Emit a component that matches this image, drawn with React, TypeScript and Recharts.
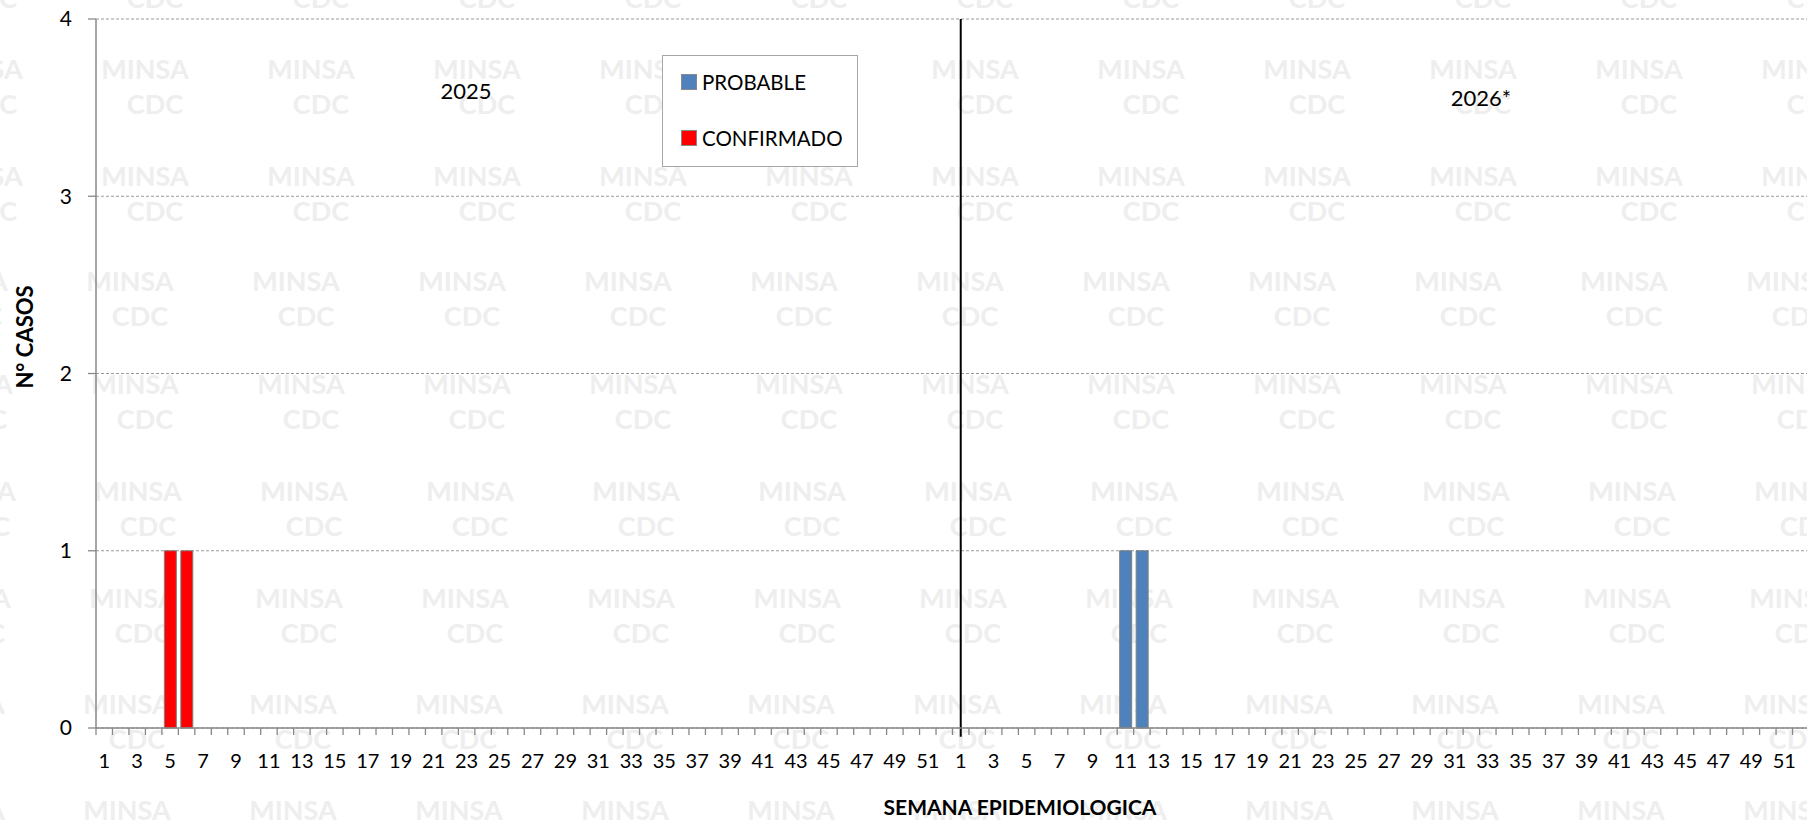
import React from 'react'
import {
  BarChart,
  Bar,
  XAxis,
  YAxis,
  CartesianGrid,
  Legend,
  ReferenceLine,
  Customized,
} from 'recharts'

// semanas epidemiologicas por año
const YEARS = ['2025', '2026']
const WEEKS = [
  1, 2, 3, 4, 5, 6, 7, 8, 9, 10, 11, 12, 13, 14, 15, 16, 17, 18, 19, 20, 21, 22, 23, 24, 25, 26,
  27, 28, 29, 30, 31, 32, 33, 34, 35, 36, 37, 38, 39, 40, 41, 42, 43, 44, 45, 46, 47, 48, 49, 50,
  51, 52,
]

// casos por semana (52 valores por año)
const PROBABLE_2025 = [
  0, 0, 0, 0, 0, 0, 0, 0, 0, 0, 0, 0, 0, 0, 0, 0, 0, 0, 0, 0, 0, 0, 0, 0, 0, 0,
  0, 0, 0, 0, 0, 0, 0, 0, 0, 0, 0, 0, 0, 0, 0, 0, 0, 0, 0, 0, 0, 0, 0, 0, 0, 0,
]
const CONFIRMADO_2025 = [
  0, 0, 0, 0, 1, 1, 0, 0, 0, 0, 0, 0, 0, 0, 0, 0, 0, 0, 0, 0, 0, 0, 0, 0, 0, 0,
  0, 0, 0, 0, 0, 0, 0, 0, 0, 0, 0, 0, 0, 0, 0, 0, 0, 0, 0, 0, 0, 0, 0, 0, 0, 0,
]
const PROBABLE_2026 = [
  0, 0, 0, 0, 0, 0, 0, 0, 0, 0, 1, 1, 0, 0, 0, 0, 0, 0, 0, 0, 0, 0, 0, 0, 0, 0,
  0, 0, 0, 0, 0, 0, 0, 0, 0, 0, 0, 0, 0, 0, 0, 0, 0, 0, 0, 0, 0, 0, 0, 0, 0, 0,
]
const CONFIRMADO_2026 = [
  0, 0, 0, 0, 0, 0, 0, 0, 0, 0, 0, 0, 0, 0, 0, 0, 0, 0, 0, 0, 0, 0, 0, 0, 0, 0,
  0, 0, 0, 0, 0, 0, 0, 0, 0, 0, 0, 0, 0, 0, 0, 0, 0, 0, 0, 0, 0, 0, 0, 0, 0, 0,
]
const Y_TICKS = [0, 1, 2, 3, 4]
const YEAR_LABELS = ['2025', '2026*']

const SERIES = [
  { key: 'probable', name: 'PROBABLE', color: '#4F81BD' },
  { key: 'confirmado', name: 'CONFIRMADO', color: '#FF0000' },
]

const byYear: Record<string, { probable: number[]; confirmado: number[] }> = {
  '2025': { probable: PROBABLE_2025, confirmado: CONFIRMADO_2025 },
  '2026': { probable: PROBABLE_2026, confirmado: CONFIRMADO_2026 },
}

const data = YEARS.flatMap((year) =>
  WEEKS.map((week, i) => ({
    key: `${year}-${week}`,
    week,
    probable: byYear[year].probable[i],
    confirmado: byYear[year].confirmado[i],
  }))
)

const FONT = 'Lato, "Liberation Sans", sans-serif'
const CHART_W = 1815
const CHART_H = 820
const MARGIN = { top: 19, right: 6, left: 0, bottom: 0 }
const Y_AXIS_W = 96
const X_AXIS_H = 92
const CAT_W = (CHART_W - Y_AXIS_W - MARGIN.right) / data.length

// marca de agua MINSA / CDC
const WM_ROWS = [
  { y: 69, x0: 145 },
  { y: 176, x0: 145 },
  { y: 281, x0: 130 },
  { y: 384, x0: 135 },
  { y: 491, x0: 138 },
  { y: 598, x0: 133 },
  { y: 704, x0: 127 },
  { y: 810, x0: 127 },
]
const WM_STEP = 166
const WM_STYLE = { fontSize: 27, fontWeight: 700, fill: '#eeeeee', fontFamily: FONT }

function Watermark() {
  const items: React.ReactNode[] = []
  for (let c = -1; c < 12; c++) {
    items.push(
      <text key={`top-${c}`} x={155 + c * WM_STEP} y={8} textAnchor="middle" {...WM_STYLE}>
        CDC
      </text>
    )
  }
  WM_ROWS.forEach((r, ri) => {
    for (let c = -1; c < 12; c++) {
      const x = r.x0 + c * WM_STEP
      items.push(
        <text key={`m-${ri}-${c}`} x={x} y={r.y + 10} textAnchor="middle" {...WM_STYLE}>
          MINSA
        </text>,
        <text key={`c-${ri}-${c}`} x={x + 10} y={r.y + 45} textAnchor="middle" {...WM_STYLE}>
          CDC
        </text>
      )
    }
  })
  return (
    <svg width={1807} height={820} style={{ position: 'absolute', left: 0, top: 0 }}>
      {items}
    </svg>
  )
}

function WeekTick(props: any) {
  const { x, y, payload } = props
  const week = data[payload.index]?.week ?? Number(String(payload.value).split('-')[1])
  const bx = x - CAT_W / 2
  return (
    <g>
      <line x1={bx} y1={y} x2={bx} y2={y + 7} stroke="#888" strokeWidth={1.3} />
      {week % 2 === 1 && (
        <text x={x} y={y + 40} textAnchor="middle" fontSize={20} fill="#000" fontFamily={FONT}>
          {week}
        </text>
      )}
    </g>
  )
}

function LegendBox() {
  return (
    <div
      style={{
        width: 196,
        height: 112,
        border: '1.5px solid #a6a6a6',
        background: '#fff',
        fontFamily: FONT,
        fontSize: 20.5,
        color: '#000',
        boxSizing: 'border-box',
        position: 'relative',
      }}
    >
      {SERIES.map((s, i) => (
        <div
          key={s.key}
          style={{ position: 'absolute', left: 18, top: 14 + i * 56, display: 'flex', alignItems: 'center', whiteSpace: 'nowrap' }}
        >
          <span style={{ width: 14, height: 14, background: s.color, border: '1px solid #888', marginRight: 5, display: 'inline-block' }} />
          <span>{s.name}</span>
        </div>
      ))}
    </div>
  )
}

function Texts() {
  return (
    <g fontFamily={FONT}>
      <text x={466} y={99} textAnchor="middle" fontSize={22} fill="#000">
        {YEAR_LABELS[0]}
      </text>
      <text x={1481} y={106} textAnchor="middle" fontSize={22} fill="#000">
        {YEAR_LABELS[1]}
      </text>
      <text x={1020} y={815} textAnchor="middle" fontSize={21} fontWeight={700} fill="#000">
        SEMANA EPIDEMIOLOGICA
      </text>
      <text
        x={24}
        y={337}
        textAnchor="middle"
        dominantBaseline="central"
        fontSize={22}
        fontWeight={700}
        fill="#000"
        transform="rotate(-90 24 337)"
      >
        N° CASOS
      </text>
    </g>
  )
}

export default function App() {
  return (
    <div style={{ position: 'fixed', left: 0, top: 0, width: 1807, height: 820, overflow: 'hidden', background: '#fff' }}>
      <Watermark />
      <div style={{ position: 'absolute', left: 0, top: 0 }}>
        <BarChart width={CHART_W} height={CHART_H} data={data} margin={MARGIN} barCategoryGap="15%">
          <CartesianGrid vertical={false} stroke="#9a9a9a" strokeDasharray="3 2" />
          <XAxis
            dataKey="key"
            interval={0}
            height={X_AXIS_H}
            tick={<WeekTick />}
            tickLine={false}
            tickSize={0}
            tickMargin={0}
            axisLine={{ stroke: '#888', strokeWidth: 1.5 }}
          />
          <YAxis
            width={Y_AXIS_W}
            domain={[0, 4]}
            ticks={Y_TICKS}
            interval={0}
            tickSize={8}
            tickMargin={16}
            tick={{ fontSize: 21, fill: '#000', fontFamily: FONT }}
            tickLine={{ stroke: '#888', strokeWidth: 1.3 }}
            axisLine={{ stroke: '#888', strokeWidth: 1.5 }}
          />
          <Legend
            layout="vertical"
            verticalAlign="middle"
            align="center"
            content={() => <LegendBox />}
            wrapperStyle={{ left: 662, top: 55, width: 196, height: 112 }}
          />
          {SERIES.map((s) => (
            <Bar
              key={s.key}
              dataKey={s.key}
              name={s.name}
              stackId="casos"
              fill={s.color}
              stroke="#808080"
              strokeWidth={1}
              isAnimationActive={false}
            />
          ))}
          <ReferenceLine
            segment={[
              { x: '2026-1', y: 4 },
              { x: '2026-1', y: -0.05 },
            ]}
            stroke="#000"
            strokeWidth={2}
            ifOverflow="visible"
          />
          <Customized component={Texts} />
        </BarChart>
      </div>
    </div>
  )
}
